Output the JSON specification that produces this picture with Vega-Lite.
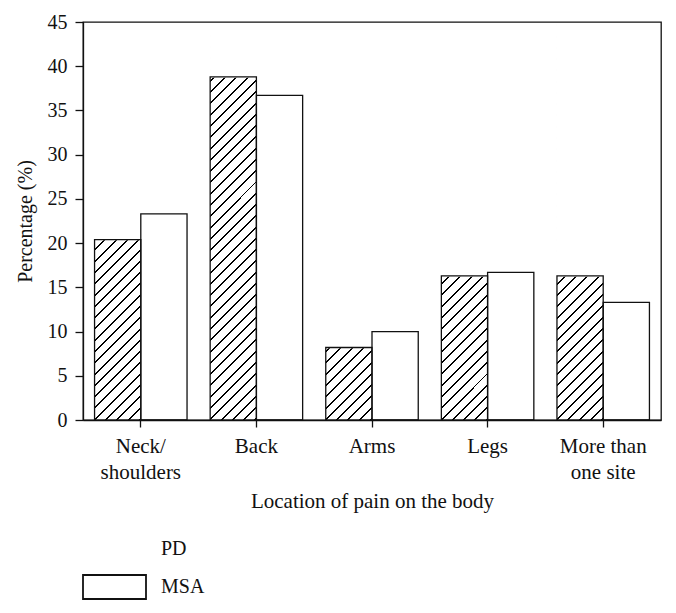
{
  "$schema": "https://vega.github.io/schema/vega-lite/v6.json",
  "width": 578,
  "height": 398,
  "autosize": {"type": "none"},
  "padding": {"left": 83, "top": 22, "right": 15, "bottom": 193},
  "config": {
    "font": "Liberation Serif",
    "view": {"stroke": "#111", "strokeWidth": 1.3},
    "axis": {"domainColor": "#111", "tickColor": "#111", "labelColor": "#111", "titleColor": "#111", "domainWidth": 1.3, "tickWidth": 1.3, "titleFontWeight": "normal", "grid": false, "zindex": 1}
  },
  "data": {"values": [
    {"cat": "Neck/shoulders", "group": "PD", "value": 20.4},
    {"cat": "Neck/shoulders", "group": "MSA", "value": 23.3},
    {"cat": "Back", "group": "PD", "value": 38.8},
    {"cat": "Back", "group": "MSA", "value": 36.7},
    {"cat": "Arms", "group": "PD", "value": 8.2},
    {"cat": "Arms", "group": "MSA", "value": 10.0},
    {"cat": "Legs", "group": "PD", "value": 16.3},
    {"cat": "Legs", "group": "MSA", "value": 16.7},
    {"cat": "More than one site", "group": "PD", "value": 16.3},
    {"cat": "More than one site", "group": "MSA", "value": 13.3}
  ]},
  "encoding": {
    "x": {
      "field": "cat", "type": "nominal", "sort": null,
      "scale": {"paddingInner": 0.2, "paddingOuter": 0.1},
      "axis": {
        "title": "Location of pain on the body", "titleFontSize": 21, "titlePadding": 8,
        "labelAngle": 0, "labelFontSize": 21, "labelLineHeight": 26, "labelPadding": 8, "tickSize": 7,
        "labelExpr": "datum.value === 'Neck/shoulders' ? ['Neck/', 'shoulders'] : datum.value === 'More than one site' ? ['More than', 'one site'] : datum.value"
      }
    },
    "xOffset": {"field": "group", "type": "nominal", "sort": ["PD", "MSA"], "scale": {"domain": ["PD", "MSA"], "paddingInner": 0, "paddingOuter": 0}}
  },
  "layer": [
    {
      "transform": [{"filter": "datum.group === 'PD'"}],
      "mark": {"type": "bar", "strokeWidth": 0, "fill": {"gradient": "linear", "x1": 0, "y1": 0, "x2": 0.12857, "y2": 1.10163, "stops": [
        {"offset": 0, "color": "#fff"}, {"offset": 0, "color": "#000"}, {"offset": 0.0045, "color": "#000"}, {"offset": 0.0045, "color": "#fff"},
        {"offset": 0.0255, "color": "#fff"}, {"offset": 0.0255, "color": "#000"}, {"offset": 0.03, "color": "#000"}, {"offset": 0.03, "color": "#fff"},
        {"offset": 0.051, "color": "#fff"}, {"offset": 0.051, "color": "#000"}, {"offset": 0.0555, "color": "#000"}, {"offset": 0.0555, "color": "#fff"},
        {"offset": 0.0765, "color": "#fff"}, {"offset": 0.0765, "color": "#000"}, {"offset": 0.081, "color": "#000"}, {"offset": 0.081, "color": "#fff"},
        {"offset": 0.102, "color": "#fff"}, {"offset": 0.102, "color": "#000"}, {"offset": 0.1065, "color": "#000"}, {"offset": 0.1065, "color": "#fff"},
        {"offset": 0.1275, "color": "#fff"}, {"offset": 0.1275, "color": "#000"}, {"offset": 0.132, "color": "#000"}, {"offset": 0.132, "color": "#fff"},
        {"offset": 0.153, "color": "#fff"}, {"offset": 0.153, "color": "#000"}, {"offset": 0.1575, "color": "#000"}, {"offset": 0.1575, "color": "#fff"},
        {"offset": 0.1785, "color": "#fff"}, {"offset": 0.1785, "color": "#000"}, {"offset": 0.183, "color": "#000"}, {"offset": 0.183, "color": "#fff"},
        {"offset": 0.204, "color": "#fff"}, {"offset": 0.204, "color": "#000"}, {"offset": 0.2085, "color": "#000"}, {"offset": 0.2085, "color": "#fff"},
        {"offset": 0.2295, "color": "#fff"}, {"offset": 0.2295, "color": "#000"}, {"offset": 0.234, "color": "#000"}, {"offset": 0.234, "color": "#fff"},
        {"offset": 0.255, "color": "#fff"}, {"offset": 0.255, "color": "#000"}, {"offset": 0.2595, "color": "#000"}, {"offset": 0.2595, "color": "#fff"},
        {"offset": 0.2805, "color": "#fff"}, {"offset": 0.2805, "color": "#000"}, {"offset": 0.285, "color": "#000"}, {"offset": 0.285, "color": "#fff"},
        {"offset": 0.306, "color": "#fff"}, {"offset": 0.306, "color": "#000"}, {"offset": 0.3105, "color": "#000"}, {"offset": 0.3105, "color": "#fff"},
        {"offset": 0.3315, "color": "#fff"}, {"offset": 0.3315, "color": "#000"}, {"offset": 0.336, "color": "#000"}, {"offset": 0.336, "color": "#fff"},
        {"offset": 0.357, "color": "#fff"}, {"offset": 0.357, "color": "#000"}, {"offset": 0.3615, "color": "#000"}, {"offset": 0.3615, "color": "#fff"},
        {"offset": 0.3825, "color": "#fff"}, {"offset": 0.3825, "color": "#000"}, {"offset": 0.387, "color": "#000"}, {"offset": 0.387, "color": "#fff"},
        {"offset": 0.408, "color": "#fff"}, {"offset": 0.408, "color": "#000"}, {"offset": 0.4125, "color": "#000"}, {"offset": 0.4125, "color": "#fff"},
        {"offset": 0.4335, "color": "#fff"}, {"offset": 0.4335, "color": "#000"}, {"offset": 0.438, "color": "#000"}, {"offset": 0.438, "color": "#fff"},
        {"offset": 0.459, "color": "#fff"}, {"offset": 0.459, "color": "#000"}, {"offset": 0.4635, "color": "#000"}, {"offset": 0.4635, "color": "#fff"},
        {"offset": 0.4845, "color": "#fff"}, {"offset": 0.4845, "color": "#000"}, {"offset": 0.489, "color": "#000"}, {"offset": 0.489, "color": "#fff"},
        {"offset": 0.51, "color": "#fff"}, {"offset": 0.51, "color": "#000"}, {"offset": 0.5145, "color": "#000"}, {"offset": 0.5145, "color": "#fff"},
        {"offset": 0.5355, "color": "#fff"}, {"offset": 0.5355, "color": "#000"}, {"offset": 0.54, "color": "#000"}, {"offset": 0.54, "color": "#fff"},
        {"offset": 0.561, "color": "#fff"}, {"offset": 0.561, "color": "#000"}, {"offset": 0.5655, "color": "#000"}, {"offset": 0.5655, "color": "#fff"},
        {"offset": 0.5865, "color": "#fff"}, {"offset": 0.5865, "color": "#000"}, {"offset": 0.591, "color": "#000"}, {"offset": 0.591, "color": "#fff"},
        {"offset": 0.612, "color": "#fff"}, {"offset": 0.612, "color": "#000"}, {"offset": 0.6165, "color": "#000"}, {"offset": 0.6165, "color": "#fff"},
        {"offset": 0.6375, "color": "#fff"}, {"offset": 0.6375, "color": "#000"}, {"offset": 0.642, "color": "#000"}, {"offset": 0.642, "color": "#fff"},
        {"offset": 0.663, "color": "#fff"}, {"offset": 0.663, "color": "#000"}, {"offset": 0.6675, "color": "#000"}, {"offset": 0.6675, "color": "#fff"},
        {"offset": 0.6885, "color": "#fff"}, {"offset": 0.6885, "color": "#000"}, {"offset": 0.693, "color": "#000"}, {"offset": 0.693, "color": "#fff"},
        {"offset": 0.714, "color": "#fff"}, {"offset": 0.714, "color": "#000"}, {"offset": 0.7185, "color": "#000"}, {"offset": 0.7185, "color": "#fff"},
        {"offset": 0.7395, "color": "#fff"}, {"offset": 0.7395, "color": "#000"}, {"offset": 0.744, "color": "#000"}, {"offset": 0.744, "color": "#fff"},
        {"offset": 0.765, "color": "#fff"}, {"offset": 0.765, "color": "#000"}, {"offset": 0.7695, "color": "#000"}, {"offset": 0.7695, "color": "#fff"},
        {"offset": 0.7905, "color": "#fff"}, {"offset": 0.7905, "color": "#000"}, {"offset": 0.795, "color": "#000"}, {"offset": 0.795, "color": "#fff"},
        {"offset": 0.816, "color": "#fff"}, {"offset": 0.816, "color": "#000"}, {"offset": 0.8205, "color": "#000"}, {"offset": 0.8205, "color": "#fff"},
        {"offset": 0.8415, "color": "#fff"}, {"offset": 0.8415, "color": "#000"}, {"offset": 0.846, "color": "#000"}, {"offset": 0.846, "color": "#fff"},
        {"offset": 0.867, "color": "#fff"}, {"offset": 0.867, "color": "#000"}, {"offset": 0.8715, "color": "#000"}, {"offset": 0.8715, "color": "#fff"},
        {"offset": 0.8925, "color": "#fff"}, {"offset": 0.8925, "color": "#000"}, {"offset": 0.897, "color": "#000"}, {"offset": 0.897, "color": "#fff"},
        {"offset": 0.918, "color": "#fff"}, {"offset": 0.918, "color": "#000"}, {"offset": 0.9225, "color": "#000"}, {"offset": 0.9225, "color": "#fff"},
        {"offset": 0.9435, "color": "#fff"}, {"offset": 0.9435, "color": "#000"}, {"offset": 0.948, "color": "#000"}, {"offset": 0.948, "color": "#fff"},
        {"offset": 0.969, "color": "#fff"}, {"offset": 0.969, "color": "#000"}, {"offset": 0.9735, "color": "#000"}, {"offset": 0.9735, "color": "#fff"},
        {"offset": 0.9945, "color": "#fff"}, {"offset": 0.9945, "color": "#000"}, {"offset": 0.999, "color": "#000"}, {"offset": 0.999, "color": "#fff"},
        {"offset": 1, "color": "#fff"}
      ]}},
      "encoding": {
        "y": {"datum": 44.8, "type": "quantitative", "title": "Percentage (%)",
          "scale": {"domain": [0, 45], "nice": false},
          "axis": {
            "values": [0, 2.5, 5, 7.5, 10, 12.5, 15, 17.5, 20, 22.5, 25, 27.5, 30, 32.5, 35, 37.5, 40, 42.5, 45],
            "labelExpr": "datum.value % 5 === 0 ? datum.label : ''",
            "labelOverlap": false, "labelFontSize": 20, "labelPadding": 8,
            "tickSize": {"condition": {"test": "datum.value % 5 === 0", "value": 8}, "value": 5},
            "titleFontSize": 20, "titlePadding": 12
          }
        },
        "y2": {"datum": 0}
      }
    },
    {
      "transform": [{"filter": "datum.group === 'PD'"}],
      "mark": {"type": "bar", "fill": "white", "stroke": "white", "strokeWidth": 1.6},
      "encoding": {
        "y": {"field": "value", "type": "quantitative", "title": "Percentage (%)"},
        "y2": {"datum": 44.8}
      }
    },
    {
      "transform": [{"filter": "datum.group === 'PD'"}],
      "mark": {"type": "bar", "fill": "rgba(0,0,0,0)", "stroke": "#111", "strokeWidth": 1.3},
      "encoding": {
        "y": {"field": "value", "type": "quantitative", "title": "Percentage (%)"},
        "strokeDash": {
          "field": "group", "type": "nominal",
          "scale": {"domain": ["PD"], "range": [[1, 0]]},
          "legend": {
            "title": null, "orient": "none", "legendX": -1, "legendY": 514, "direction": "vertical", "padding": 0,
            "symbolType": "M-1,-0.381H1V0.381H-1Z M-1,-0.092L-0.711,-0.381 M-0.933,0.381L-0.171,-0.381 M-0.394,0.381L0.368,-0.381 M0.143,0.381L0.905,-0.381 M0.686,0.381L1,0.067",
            "symbolSize": 3969, "symbolStrokeWidth": 1.8, "symbolStrokeColor": "#111",
            "clipHeight": 26,
            "labelFontSize": 20, "labelColor": "#111", "labelOffset": 14,
            "encode": {"symbols": {"update": {
              "stroke": {"value": "#111"},
              "strokeWidth": {"value": 1.8},
              "opacity": {"value": 1}
            }}}
          }
        }
      }
    },
    {
      "transform": [{"filter": "datum.group === 'MSA'"}],
      "mark": {"type": "bar", "fill": "rgba(0,0,0,0)", "strokeWidth": 1.3},
      "encoding": {
        "y": {"field": "value", "type": "quantitative", "title": "Percentage (%)"},
        "stroke": {
          "field": "group", "type": "nominal",
          "scale": {"domain": ["MSA"], "range": ["#111"]},
          "legend": {
            "title": null, "orient": "none", "legendX": -1, "legendY": 552, "direction": "vertical", "padding": 0,
            "symbolType": "M-1,-0.381H1V0.381H-1Z", "symbolSize": 3969,
            "symbolStrokeWidth": 1.8,
            "clipHeight": 26,
            "labelFontSize": 20, "labelColor": "#111", "labelOffset": 14,
            "encode": {"symbols": {"update": {
              "fill": {"value": "white"},
              "strokeWidth": {"value": 1.8},
              "opacity": {"value": 1},
              "fillOpacity": {"value": 1}
            }}}
          }
        }
      }
    }
  ]
}
